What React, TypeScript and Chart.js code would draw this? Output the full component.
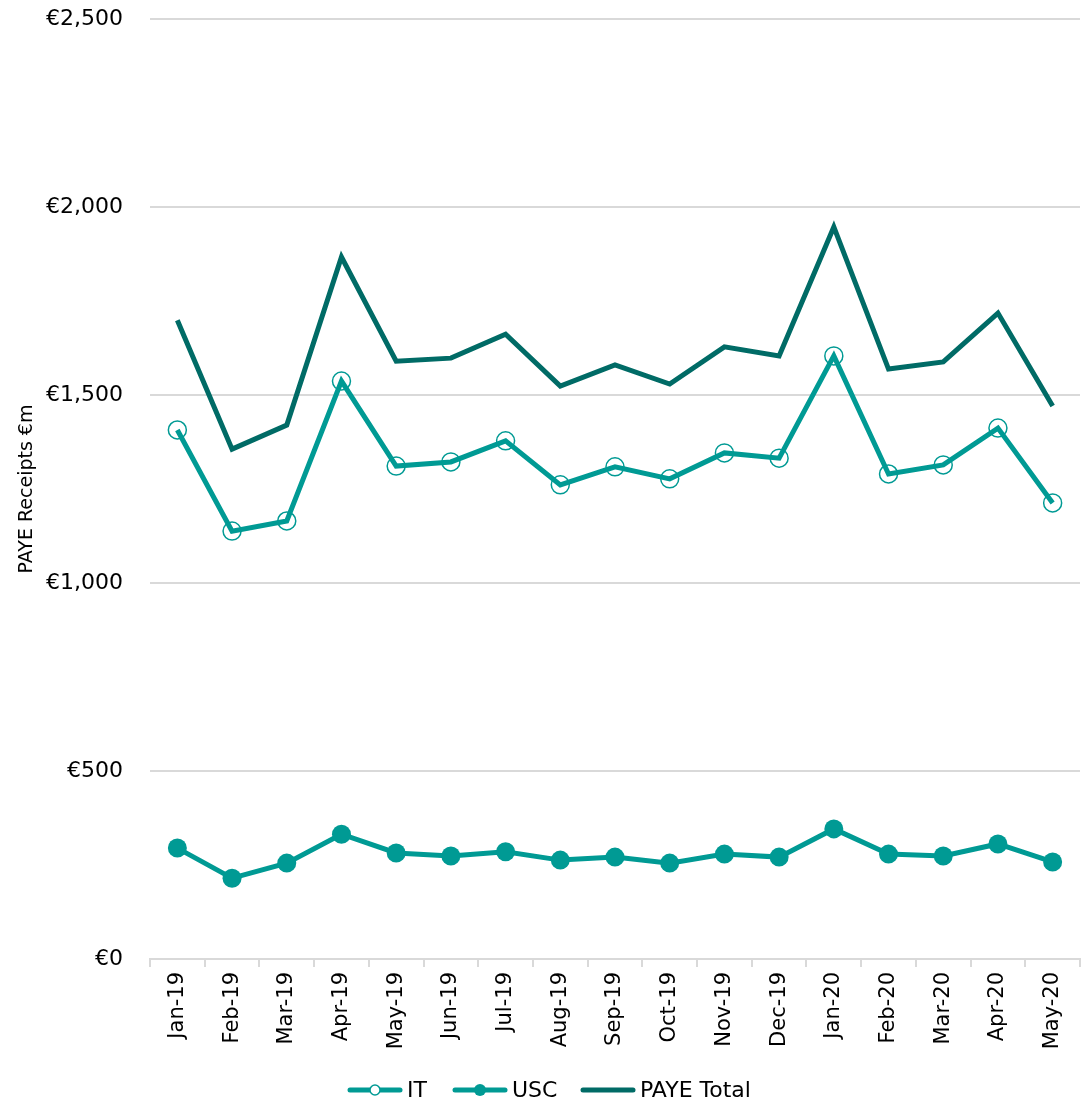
import React, { useEffect, useRef } from "react";
import { Chart, registerables } from "chart.js";

Chart.register(...registerables);

const categories = ["Jan-19","Feb-19","Mar-19","Apr-19","May-19","Jun-19","Jul-19","Aug-19","Sep-19","Oct-19","Nov-19","Dec-19","Jan-20","Feb-20","Mar-20","Apr-20","May-20"];
const itValues = [1407,1138,1165,1537,1311,1322,1378,1261,1309,1277,1346,1332,1604,1290,1314,1412,1213];
const uscValues = [295,215,255,332,282,274,285,263,271,255,279,271,346,279,274,306,258];
const payeValues = [1699,1356,1420,1867,1590,1598,1662,1524,1580,1529,1628,1604,1947,1569,1588,1718,1471];
const yTicks = [0, 500, 1000, 1500, 2000, 2500];

const TEAL = "#009A94";
const DARK = "#006B66";
const FONT = "'DejaVu Sans', Verdana, sans-serif";
const LEGEND_X = [347, 452, 580];

const legendPlugin = {
  id: "customLegend",
  afterDraw(chart: any) {
    const ctx = chart.ctx;
    const items = chart.data.datasets;
    ctx.save();
    ctx.font = `22px ${FONT}`;
    ctx.textBaseline = "middle";
    const lineW = 56, gapText = 4;
    const y = 1090;
    items.forEach((d: any, i: number) => {
      const x = LEGEND_X[i];
      ctx.strokeStyle = d.borderColor;
      ctx.lineWidth = 5;
      ctx.lineCap = "round";
      ctx.beginPath();
      ctx.moveTo(x + 3, y);
      ctx.lineTo(x + lineW - 3, y);
      ctx.stroke();
      if (d.pointRadius > 0) {
        ctx.beginPath();
        if (d.legendFilled) {
          ctx.arc(x + lineW / 2, y, 6, 0, Math.PI * 2);
          ctx.fillStyle = d.borderColor;
          ctx.fill();
        } else {
          ctx.arc(x + lineW / 2, y, 5, 0, Math.PI * 2);
          ctx.fillStyle = "#ffffff";
          ctx.fill();
          ctx.lineWidth = 1.5;
          ctx.stroke();
        }
      }
      ctx.fillStyle = "#000000";
      ctx.textAlign = "left";
      ctx.fillText(d.label, x + lineW + gapText, y + 1);
    });
    ctx.restore();
  },
};

export default function App() {
  const ref = useRef<HTMLCanvasElement>(null);
  useEffect(() => {
    if (!ref.current) return;
    const chart = new Chart(ref.current, {
      type: "line",
      data: {
        labels: categories,
        datasets: [
          {
            label: "IT",
            data: itValues,
            borderColor: TEAL,
            borderWidth: 5,
            pointRadius: 9,
            pointBorderWidth: 1.5,
            pointBorderColor: TEAL,
            pointBackgroundColor: "rgba(0,0,0,0)",
            tension: 0,
            legendFilled: false,
          } as any,
          {
            label: "USC",
            data: uscValues,
            borderColor: TEAL,
            backgroundColor: TEAL,
            borderWidth: 5,
            pointRadius: 9.5,
            pointBorderWidth: 0,
            pointBackgroundColor: TEAL,
            tension: 0,
            legendFilled: true,
          } as any,
          {
            label: "PAYE Total",
            data: payeValues,
            borderColor: DARK,
            borderWidth: 5,
            pointRadius: 0,
            tension: 0,
            legendFilled: true,
          } as any,
        ],
      },
      options: {
        responsive: false,
        animation: false,
        layout: { autoPadding: false, padding: { top: 19, right: 1, bottom: 43, left: 0 } },
        plugins: {
          legend: { display: false },
          tooltip: { enabled: false },
        },
        scales: {
          x: {
            offset: true,
            grid: { offset: true, drawOnChartArea: false, drawTicks: true, tickLength: 8, color: "#d9d9d9", lineWidth: 2 },
            border: { color: "#d9d9d9", width: 2 },
            ticks: {
              color: "#000",
              font: { family: FONT, size: 21 },
              minRotation: 90,
              maxRotation: 90,
              padding: 5,
              autoSkip: false,
            },
            afterFit(axis: any) {
              axis.height = 100;
              axis.paddingLeft = 0;
              axis.paddingRight = 0;
            },
          },
          y: {
            min: 0,
            max: 2500,
            afterBuildTicks(axis: any) { axis.ticks = yTicks.map((v) => ({ value: v })); },
            grid: { color: "#d9d9d9", lineWidth: 2, drawTicks: false },
            border: { display: false },
            ticks: {
              color: "#000",
              font: { family: FONT, size: 22 },
              padding: 27,
              callback: (v: any) => "€" + Number(v).toLocaleString("en-US"),
            },
            title: {
              display: true,
              text: "PAYE Receipts €m",
              color: "#000",
              font: { family: FONT, size: 19 },
              padding: { top: 16, bottom: 0 },
            },
            afterFit(axis: any) {
              axis.width = 150;
              axis.paddingTop = 0;
              axis.paddingBottom = 0;
            },
          },
        },
      },
      plugins: [legendPlugin],
    });
    return () => chart.destroy();
  }, []);
  return (
    <div style={{ position: "absolute", top: 0, left: 0, width: 1081, height: 1102, background: "#fff" }}>
      <canvas ref={ref} width={1081} height={1102} style={{ display: "block" }} />
    </div>
  );
}
